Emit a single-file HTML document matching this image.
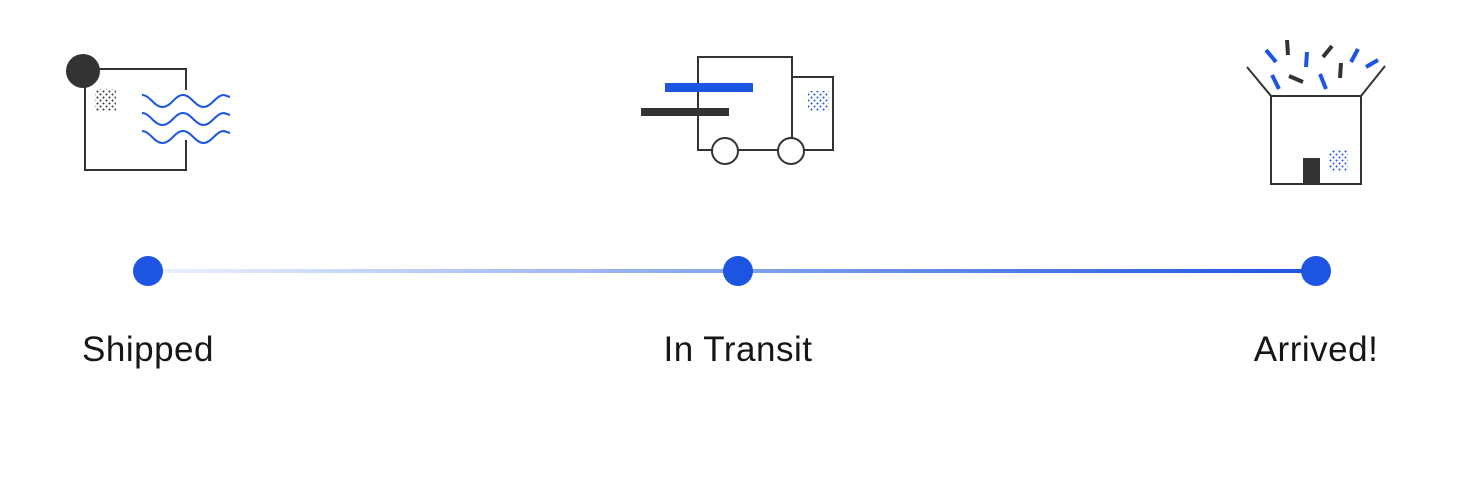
<!DOCTYPE html>
<html><head><style>
body{margin:0;background:#fff;width:1479px;height:496px;overflow:hidden}
svg{display:block}
text{font-family:"Liberation Sans",sans-serif;font-size:35px;fill:#161616;letter-spacing:0.5px}
</style></head><body>
<svg width="1479" height="496" viewBox="0 0 1479 496" xmlns="http://www.w3.org/2000/svg">
<defs>
<linearGradient id="g" x1="148" x2="1316" y1="0" y2="0" gradientUnits="userSpaceOnUse">
<stop offset="0" stop-color="#1b55e2" stop-opacity="0.08"/>
<stop offset="1" stop-color="#1b55e2" stop-opacity="1"/>
</linearGradient>
<pattern id="dk" width="6" height="6" patternUnits="userSpaceOnUse"><circle cx="1.5" cy="1.5" r="1" fill="#333"/><circle cx="4.5" cy="4.5" r="1" fill="#333"/></pattern>
<pattern id="bl" width="6" height="6" patternUnits="userSpaceOnUse"><circle cx="1.5" cy="1.5" r="1" fill="#1b55e2"/><circle cx="4.5" cy="4.5" r="1" fill="#1b55e2"/></pattern>
</defs>
<g fill="none" stroke="#333" stroke-width="2">
<path d="M186 90 V69 H85 V170 H186 V140"/>
</g>
<circle cx="83" cy="71" r="17" fill="#333"/>
<rect x="95" y="89" width="21" height="22" fill="url(#dk)"/>
<g fill="none" stroke="#1b55e2" stroke-width="2">
<path d="M142 95 c8 0 12 12 20.5 12 s12.5 -12 20.5 -12 s12.5 12 20.5 12 s12.5 -12 20.5 -12 l6 2"/>
<path d="M142 113 c8 0 12 12 20.5 12 s12.5 -12 20.5 -12 s12.5 12 20.5 12 s12.5 -12 20.5 -12 l6 2"/>
<path d="M142 131 c8 0 12 12 20.5 12 s12.5 -12 20.5 -12 s12.5 12 20.5 12 s12.5 -12 20.5 -12 l6 2"/>
</g>
<g fill="none" stroke="#333" stroke-width="2">
<path d="M698 150 V57 H792 V150 Z"/>
<path d="M792 77 H833 V150 H792"/>
<circle cx="725" cy="151" r="13" fill="#fff"/>
<circle cx="791" cy="151" r="13" fill="#fff"/>
</g>
<rect x="665" y="83" width="88" height="9" fill="#1b55e2"/>
<rect x="641" y="108" width="88" height="8" fill="#333"/>
<rect x="808" y="91" width="21" height="20" fill="url(#bl)"/>
<g fill="none" stroke="#333" stroke-width="2">
<rect x="1271" y="96" width="90" height="88"/>
<path d="M1271 96 L1247 67 M1361 96 L1385 66"/>
</g>
<rect x="1303" y="158" width="17" height="26" fill="#333"/>
<rect x="1329" y="150" width="19" height="21" fill="url(#bl)"/>
<g stroke-width="4" stroke-linecap="butt">
<path d="M1266 50 L1276 62 M1307 52 L1306 67 M1358 49 L1351 62 M1366 67 L1378 60 M1272 75 L1279 89 M1320 74 L1326 89" stroke="#1b55e2"/>
<path d="M1287 40 L1288 55 M1323 57 L1332 46 M1289 76 L1303 82 M1341 63 L1340 78" stroke="#333"/>
</g>
<rect x="148" y="269" width="1168" height="4" fill="url(#g)"/>
<circle cx="148" cy="271" r="15" fill="#1b55e2"/>
<circle cx="738" cy="271" r="15" fill="#1b55e2"/>
<circle cx="1316" cy="271" r="15" fill="#1b55e2"/>
<text x="148" y="361" text-anchor="middle">Shipped</text>
<text x="738" y="361" text-anchor="middle">In Transit</text>
<text x="1316" y="361" text-anchor="middle">Arrived!</text>
</svg>
</body></html>
